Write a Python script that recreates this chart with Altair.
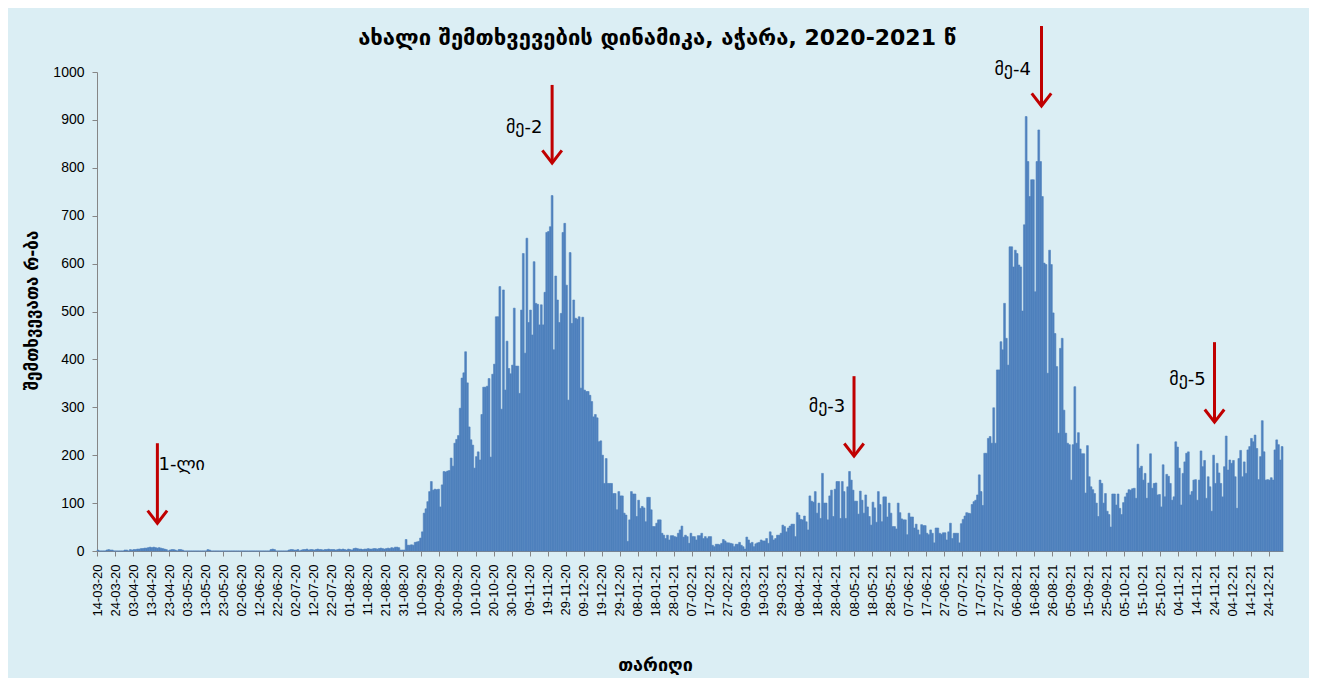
import altair as alt
import pandas as pd

# Daily new cases, Adjara, from 14-03-2020 (day 0) to 31-12-2021
cases_2020_first = [
    2, 0, 0, 0, 0, 2, 3, 2, 2, 0,
    0, 0, 0, 0, 0, 2, 2, 0, 3, 2,
    3, 3, 4, 4, 5, 5, 6, 6, 7, 8,
    7, 8, 7, 6, 7, 6, 5, 4, 3, 0,
    2, 3, 3, 2, 0, 3, 3, 2, 0, 0,
    0, 0, 0, 0, 0, 0, 0, 0, 0, 0,
    0, 3, 2, 0, 0, 0, 0, 0, 0, 0,
    0, 0, 0, 0, 0, 0, 0, 0, 0, 0,
    0, 0, 0, 0, 0, 0, 0, 0, 0, 0,
    0, 0, 0, 0, 0, 0, 3, 4, 3, 0,
    0, 0, 0, 0, 0, 0, 2, 3, 3, 2,
    2, 3, 0, 2, 3, 3, 4, 2, 3, 3,
    2, 3, 4, 3, 3, 2, 3, 3, 4, 3,
    3, 3, 2, 3, 4, 3, 4, 3, 2, 4,
    3, 2, 5, 6, 5, 4, 4, 3, 4, 4,
    5, 4, 4, 5, 5, 4, 5, 6, 5, 4,
    5, 6, 5, 7, 6, 8, 8, 7, 2, 2,
]
cases_2020_autumn = [
    2, 24, 12, 12, 13, 12, 18, 19, 20, 27,
    40, 79, 88, 103, 124, 145, 127, 129, 128, 129,
    92, 138, 166, 165, 167, 168, 194, 177, 225, 233,
    241, 298, 361, 372, 416, 351, 259, 232, 221, 173,
    197, 207, 190, 285, 342, 342, 344, 360, 196, 369,
    390, 489, 489, 552, 296, 545, 336, 438, 381, 370,
    388, 507, 386, 386, 329, 503, 621, 413, 653, 477,
    503, 451, 604, 517, 515, 472, 514, 472, 540, 665,
    667, 677, 742, 420, 574, 524, 477, 496, 665, 684,
    555, 315, 623, 475, 524, 486, 484, 489, 340, 488,
    336, 333, 333, 325, 312, 280, 285, 278, 228, 230,
    200, 141, 193, 141, 141, 141, 120, 120, 86, 124,
    115, 115, 79, 75, 20, 65, 124, 119, 119, 72,
]
cases_2021_spring = [
    106, 89, 93, 90, 61, 112, 112, 86, 51, 51,
    58, 65, 65, 37, 33, 26, 33, 23, 32, 32,
    30, 29, 37, 44, 52, 29, 33, 30, 16, 37,
    30, 30, 23, 32, 32, 37, 26, 30, 26, 30,
    30, 12, 9, 14, 14, 13, 16, 24, 21, 17,
    17, 16, 15, 9, 14, 14, 18, 12, 9, 4,
    29, 23, 16, 18, 9, 15, 17, 18, 23, 21,
    21, 26, 16, 40, 32, 23, 26, 33, 33, 37,
    54, 51, 40, 48, 52, 56, 56, 30, 80, 75,
    66, 65, 73, 61, 44, 115, 104, 102, 124, 79,
    100, 68, 162, 100, 100, 65, 115, 127, 72, 129,
    145, 145, 68, 145, 124, 68, 134, 166, 148, 127,
    104, 104, 77, 125, 106, 79, 117, 92, 72, 54,
    102, 90, 60, 124, 97, 61, 113, 113, 71, 100,
    79, 51, 51, 46, 100, 80, 67, 65, 65, 34,
    79, 71, 71, 48, 56, 44, 34, 55, 53, 53,
    37, 34, 44, 37, 17, 48, 48, 37, 35, 38,
    38, 23, 40, 58, 26, 37, 37, 37, 17, 57,
]
cases_2021_summer = [
    66, 73, 80, 79, 78, 97, 103, 106, 117, 159,
    124, 95, 204, 204, 235, 239, 225, 299, 225, 378,
    378, 437, 420, 517, 444, 388, 635, 635, 593, 628,
    621, 597, 593, 501, 681, 907, 813, 740, 775, 775,
    541, 813, 879, 813, 740, 601, 598, 371, 628, 598,
    497, 454, 385, 246, 423, 444, 294, 246, 225, 222,
]
cases_2021_autumn = [
    148, 222, 343, 225, 247, 213, 203, 203, 121, 220,
    155, 134, 128, 120, 100, 72, 148, 141, 100, 120,
    83, 76, 50, 119, 119, 96, 119, 89, 76, 101,
    113, 121, 128, 127, 130, 131, 110, 223, 173, 177,
    148, 162, 110, 142, 203, 131, 141, 142, 117, 118,
    92, 180, 113, 160, 156, 141, 106, 113, 228, 217,
    173, 96, 162, 186, 204, 207, 117, 124, 148, 149,
    106, 148, 209, 176, 189, 110, 155, 134, 83, 200,
    141, 183, 163, 141, 113, 176, 240, 169, 190, 183,
    189, 155, 89, 193, 210, 155, 186, 162, 211, 218,
    235, 228, 242, 214, 149, 197, 272, 207, 148, 149,
    148, 153, 148, 211, 232, 222, 190, 218,
]

# Wave annotations (day index from 14-03-2020, case values)
wave_labels = ["1-ლი", "მე-2", "მე-3", "მე-4", "მე-5"]
arrow_day = [33.5, 252.5, 420, 524, 620]
arrow_top = [225, 973, 365, 1096, 436]
arrow_tip = [58, 810, 198, 929, 269]
label_day = [47, 237, 405, 508, 605]
label_value = [180, 883, 301, 1004, 357]

TITLE = "ახალი შემთხვევების დინამიკა, აჭარა, 2020-2021 წ"
Y_TITLE = "შემთხვევათა რ-ბა"
X_TITLE = "თარიღი"

cases = (cases_2020_first + cases_2020_autumn + cases_2021_spring
         + cases_2021_summer + cases_2021_autumn)
n = len(cases)
df = pd.DataFrame({"day": list(range(n)),
                   "day_end": [i + 1 for i in range(n)],
                   "base": [0] * n,
                   "cases": cases})
ann = pd.DataFrame({"label": wave_labels, "aday": arrow_day, "top": arrow_top,
                    "tip": arrow_tip, "lday": label_day, "lval": label_value})

RED = "#C00000"
BLUE = "#4F81BD"
xscale = alt.Scale(domain=[0, n], nice=False, zero=False)
yscale = alt.Scale(domain=[0, 1000], nice=False)

x_axis = alt.Axis(
    values=list(range(0, 651, 10)),
    labelExpr="timeFormat(datetime(2020, 2, 14 + datum.value), '%d-%m-%y')",
    labelAngle=270, labelFontSize=13, labelFont="Liberation Sans",
    labelColor="#000000", labelPadding=8, labelOverlap=False, labelFlush=False,
    labelBound=False,
    tickSize=5, tickColor="#868686", domainColor="#868686", grid=False,
    title=X_TITLE, titleFont="DejaVu Sans", titleFontSize=18, titleFontWeight="bold",
    titleColor="#000000", titleX=558, titleY=114, titleAlign="center",
    titleBaseline="middle",
)
y_axis = alt.Axis(
    values=list(range(0, 1001, 100)), format="d", labelFontSize=14,
    labelFont="Liberation Sans", labelOverlap=False,
    labelColor="#000000", labelPadding=8, tickSize=5, tickColor="#868686",
    domainColor="#868686", grid=False,
    title=Y_TITLE, titleFont="DejaVu Sans", titleFontSize=17, titleFontWeight="bold",
    titleColor="#000000", titleAngle=270, titleX=-65, titleY=238,
    titleAlign="center", titleBaseline="middle",
)

bars = alt.Chart(df).mark_bar(color=BLUE, stroke=BLUE, strokeWidth=0.6).encode(
    x=alt.X("day:Q", scale=xscale, axis=x_axis),
    x2="day_end:Q",
    y=alt.Y("cases:Q", scale=yscale, axis=y_axis),
    y2="base:Q",
)

shafts = alt.Chart(ann).mark_rule(color=RED, strokeWidth=3).encode(
    x=alt.X("aday:Q", scale=xscale, axis=x_axis),
    y=alt.Y("top:Q", scale=yscale, axis=y_axis),
    y2="tip:Q",
)

heads = alt.Chart(ann).mark_point(
    shape="M -1 -1.3 L 0 0 L 1 -1.3", filled=False, stroke=RED,
    strokeWidth=3, size=380, opacity=1,
).encode(
    x=alt.X("aday:Q", scale=xscale, axis=x_axis),
    y=alt.Y("tip:Q", scale=yscale, axis=y_axis),
)

labels = alt.Chart(ann).mark_text(
    font="DejaVu Sans", fontSize=18, color="#000000", align="center",
    baseline="middle",
).encode(
    x=alt.X("lday:Q", scale=xscale, axis=x_axis),
    y=alt.Y("lval:Q", scale=yscale, axis=y_axis),
    text="label:N",
)

title_df = pd.DataFrame({"t": [TITLE]})
title_mark = alt.Chart(title_df).mark_text(
    font="DejaVu Sans", fontSize=22, fontWeight="bold", color="#000000",
    align="center", baseline="middle",
).encode(
    x=alt.value(560), y=alt.value(-34), text="t:N",
)

chart = alt.layer(bars, shafts, heads, labels, title_mark).properties(
    width=1186,
    height=479,
    autosize=alt.AutoSizeParams(type="none"),
    padding={"left": 89, "top": 64, "right": 26, "bottom": 127},
    background="#DBEEF4",
).configure_view(strokeWidth=0)

chart.save("out.html", embed_options={"renderer": "svg", "actions": False})
